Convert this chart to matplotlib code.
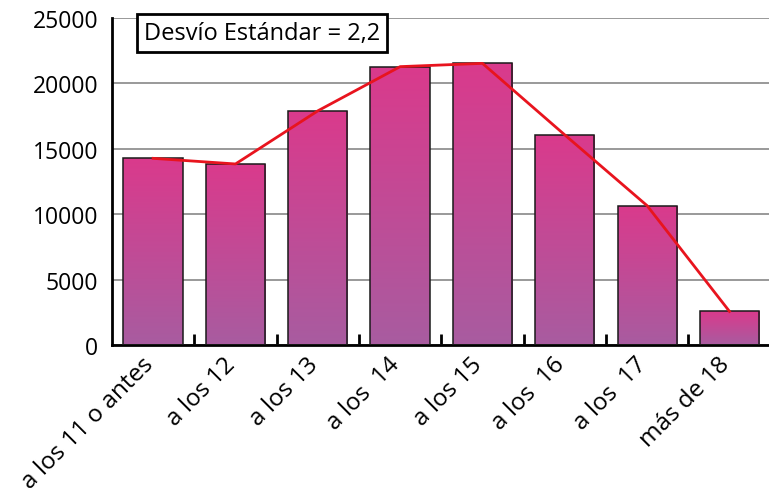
import numpy as np
import matplotlib.pyplot as plt
import matplotlib.transforms as mtransforms
from matplotlib.colors import LinearSegmentedColormap

plt.rcParams['font.family'] = ['Open Sans', 'DejaVu Sans']

categories = ["a los 11 o antes", "a los 12", "a los 13", "a los  14",
              "a los 15", "a los  16", "a los  17", "más de 18"]
values = [14270, 13840, 17900, 21280, 21530, 16060, 10650, 2570]
line_values = [14270, 13840, 17900, 21280, 21530, 16060, 10650, 2570]
yticks = [0, 5000, 10000, 15000, 20000, 25000]
label_box = "Desvío Estándar = 2,2"

fig = plt.figure(figsize=(7.69, 4.89), dpi=100)
ax = fig.add_axes([0.1456, 0.2924, 0.8544, 0.6688])

x = np.arange(len(categories))
bars = ax.bar(x, values, width=0.72, color='none', edgecolor='#1a1a1a',
              linewidth=1.1, zorder=3)

# vertical gradient inside each bar
cmap = LinearSegmentedColormap.from_list('grad', ['#a85ca0', '#da3a8c'])
grad = np.linspace(0, 1, 256).reshape(-1, 1)
for b in bars:
    x0, w, h = b.get_x(), b.get_width(), b.get_height()
    im = ax.imshow(grad, extent=[x0, x0 + w, 0, h], origin='lower',
                   cmap=cmap, aspect='auto', zorder=2)
    im.set_clip_path(b)

ax.plot(x, line_values, color='#e8141e', linewidth=2, zorder=4)

ax.set_xlim(-0.5, 7.48)
ax.set_ylim(0, 25000)
ax.set_yticks(yticks)
ax.set_yticklabels([str(v) for v in yticks], fontsize=16.5)
ax.tick_params(axis='y', length=0, pad=10)
ax.yaxis.grid(True, color='#888888', linewidth=1.2, zorder=0)
ax.set_axisbelow(True)

ax.set_xticks(x)
ax.set_xticklabels(categories, rotation=45, ha='right',
                   rotation_mode='anchor', fontsize=17.5)
ax.tick_params(axis='x', which='major', length=0, pad=5)
shift = mtransforms.ScaledTranslation(-0.12, 0, fig.dpi_scale_trans)
for lbl in ax.get_xticklabels():
    lbl.set_transform(lbl.get_transform() + shift)
ax.set_xticks(np.arange(0.5, 7, 1), minor=True)
ax.tick_params(axis='x', which='minor', direction='in', length=8, width=2)

for s in ['top', 'right']:
    ax.spines[s].set_visible(False)
ax.spines['left'].set_linewidth(2)
ax.spines['bottom'].set_linewidth(2)

fig.text(0.3407, 0.9305, label_box, fontsize=17, ha='center', va='center',
         bbox=dict(boxstyle='square,pad=0.3', facecolor='white',
                   edgecolor='black', linewidth=2), zorder=5)

fig.savefig('out.png', dpi=100)
